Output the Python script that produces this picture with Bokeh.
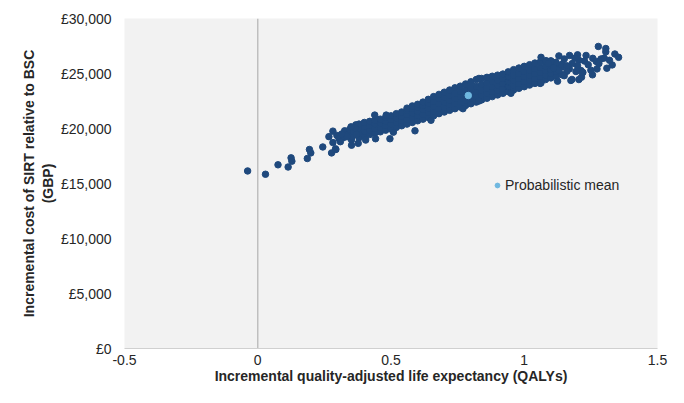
from bokeh.plotting import figure
from bokeh.models import Span, Legend, LegendItem, FixedTicker
from bokeh.embed import file_html
from bokeh.resources import INLINE

# ---- data ----
# dense core of the PSA cloud: one QALY value per column, several costs per column
col_qaly = [0.38, 0.40, 0.42, 0.44, 0.46, 0.48, 0.50, 0.52, 0.54, 0.56,
            0.58, 0.60, 0.62, 0.64, 0.66, 0.68, 0.70, 0.72, 0.74, 0.76,
            0.78, 0.80, 0.82, 0.84, 0.86, 0.88, 0.90, 0.92, 0.94, 0.96,
            0.98, 1.00, 1.02, 1.04, 1.06, 1.08, 1.10, 1.12]
col_cost = [
    [19150, 19600, 20050, 20400],
    [19300, 19750, 20150, 20550],
    [19450, 19850, 20250, 20650],
    [19600, 20000, 20400, 20750],
    [19700, 20100, 20500, 20850],
    [19850, 20250, 20650, 21000],
    [19950, 20400, 20800, 21150],
    [20100, 20550, 20950, 21350],
    [20250, 20700, 21100, 21500],
    [20400, 20850, 21250, 21650, 21850],
    [20550, 21000, 21400, 21800, 22050],
    [20700, 21150, 21550, 21950, 22200],
    [20850, 21300, 21700, 22100, 22400],
    [21000, 21450, 21850, 22300, 22650],
    [21150, 21600, 22050, 22450, 22900],
    [21350, 21800, 22250, 22700, 23100],
    [21500, 21950, 22400, 22850, 23300],
    [21650, 22150, 22600, 23050, 23500],
    [21800, 22300, 22750, 23200, 23700],
    [21950, 22450, 22900, 23350, 23850],
    [22100, 22600, 23050, 23500, 24050],
    [22250, 22750, 23200, 23700, 24250],
    [22400, 22900, 23350, 23850, 24450],
    [22600, 23050, 23500, 24000, 24550],
    [22750, 23200, 23650, 24150, 24650],
    [22900, 23350, 23800, 24300, 24750],
    [23050, 23500, 23950, 24400, 24850],
    [23200, 23650, 24100, 24550, 24950],
    [23350, 23800, 24250, 24700, 25150],
    [23500, 23950, 24400, 24850, 25350],
    [23650, 24100, 24550, 25000, 25500],
    [23800, 24250, 24700, 25150, 25650],
    [23950, 24400, 24850, 25300, 25800],
    [24100, 24550, 25000, 25450, 25950],
    [24300, 24700, 25100, 25550, 26050],
    [24450, 24850, 25250, 25650, 26100],
    [24600, 25000, 25350, 25750, 26150],
    [24750, 25150, 25500, 25900],
]

# sparse lower-left tail and scattered points along the band
tail_qaly = [-0.038, 0.029, 0.076, 0.114, 0.125, 0.128, 0.186, 0.194, 0.199, 0.244,
             0.277, 0.293, 0.282, 0.267, 0.282, 0.297, 0.305, 0.321, 0.326, 0.292,
             0.352, 0.352, 0.377, 0.368, 0.405, 0.439, 0.442, 0.496, 0.590, 0.509,
             0.482, 0.340, 0.345, 0.355, 0.360, 0.365, 0.370, 0.350, 0.335, 0.315,
             0.310, 0.650, 0.770, 0.830, 0.950, 1.060, 0.830]
tail_cost = [16140, 15840, 16700, 16500, 17330, 17030, 17270, 18090, 17780, 18320,
             17780, 18090, 18720, 19260, 19760, 19370, 19070, 19160, 19790, 18150,
             18950, 18480, 18650, 20330, 18950, 21220, 19070, 19070, 19790, 19670,
             21220, 19500, 19900, 19300, 19700, 20050, 19450, 20150, 19250, 19500,
             18800, 20750, 21800, 22500, 23200, 24100, 24550]

# sparse upper-right end of the cloud
right_qaly = [1.125, 1.205, 1.175, 1.256, 1.278, 1.306, 1.306, 1.340, 1.354, 1.330,
              1.310, 1.273, 1.215, 1.179, 1.288, 1.257, 1.232, 1.200, 1.226, 1.063,
              1.082, 1.119, 1.169, 1.213, 1.194, 1.143, 1.150, 1.140, 1.160, 1.180,
              1.240, 1.270, 1.300, 1.320, 1.250, 1.140, 1.100, 1.130, 1.170, 1.205,
              1.220, 1.090, 1.063, 1.130, 1.160, 1.190, 1.110, 1.150, 1.200, 1.280]
right_cost = [24300, 24450, 24370, 24880, 27460, 27270, 26970, 26770, 26470, 25780,
              25480, 25420, 24670, 24460, 26320, 26380, 26640, 26700, 26130, 26470,
              26170, 26020, 25420, 25270, 25180, 25870, 26320, 25600, 25200, 25900,
              25800, 26100, 26400, 26200, 25300, 24900, 26100, 26600, 26640, 26200,
              25100, 25900, 24160, 25300, 25700, 26400, 25500, 24800, 25700, 25900]

mean_qaly = [0.79]
mean_cost = [23000]
mean_label = "Probabilistic mean"

x_ticks = [-0.5, 0, 0.5, 1, 1.5]
x_tick_labels = ["-0.5", "0", "0.5", "1", "1.5"]
y_ticks = [0, 5000, 10000, 15000, 20000, 25000, 30000]
y_tick_labels = ["£0", "£5,000", "£10,000", "£15,000", "£20,000", "£25,000", "£30,000"]

x_title = "Incremental quality-adjusted life expectancy (QALYs)"
y_title = "Incremental cost of SIRT relative to BSC\n(GBP)"

# ---- assemble ----
qaly, cost = [], []
for qx, costs in zip(col_qaly, col_cost):
    for c in costs:
        qaly.append(qx)
        cost.append(c)
qaly += tail_qaly + right_qaly
cost += tail_cost + right_cost

FONT = "Liberation Sans"
TXT = "#262626"

p = figure(width=668, height=387, x_range=(-0.5, 1.5), y_range=(0, 30000),
           output_backend="svg", toolbar_location=None,
           min_border_left=124, min_border_right=11, min_border_top=18,
           min_border_bottom=39)
p.background_fill_color = "#f2f2f2"
p.border_fill_color = "white"
p.outline_line_color = None
p.grid.visible = False

p.add_layout(Span(location=0, dimension="height", line_color="#bfbfbf",
                  line_width=1.5, level="underlay"))

p.scatter(qaly, cost, size=6.5, color="#1F497D")
mr = p.scatter(mean_qaly, mean_cost, size=6.5, color="#6FB8E0")

legend = Legend(items=[LegendItem(label=mean_label, renderers=[mr])],
                location=(367, 155), background_fill_alpha=0,
                border_line_color=None, padding=0, margin=0, spacing=0,
                glyph_width=12, glyph_height=12, label_standoff=2,
                label_text_font=FONT, label_text_font_size="14px",
                label_text_color=TXT)
p.add_layout(legend)

for ax in (p.xaxis, p.yaxis):
    ax.major_tick_line_color = None
    ax.minor_tick_line_color = None
    ax.major_tick_out = 0
    ax.major_tick_in = 0
    ax.major_label_text_font = FONT
    ax.major_label_text_font_size = "14px"
    ax.major_label_text_color = TXT
    ax.axis_label_text_font = FONT
    ax.axis_label_text_font_size = "14px"
    ax.axis_label_text_font_style = "bold"
    ax.axis_label_text_color = TXT

p.xaxis.ticker = FixedTicker(ticks=x_ticks)
p.xaxis.major_label_overrides = dict(zip(x_ticks, x_tick_labels))
p.xaxis.axis_line_color = "#d0d0d0"
p.xaxis.major_label_standoff = 6
p.xaxis.axis_label = x_title
p.xaxis.axis_label_standoff = 0

p.yaxis.ticker = FixedTicker(ticks=y_ticks)
p.yaxis.major_label_overrides = dict(zip(y_ticks, y_tick_labels))
p.yaxis.axis_line_color = None
p.yaxis.major_label_standoff = 13
p.yaxis.axis_label = y_title
p.yaxis.axis_label_standoff = 2

open("out.html", "w").write(file_html(p, INLINE))
